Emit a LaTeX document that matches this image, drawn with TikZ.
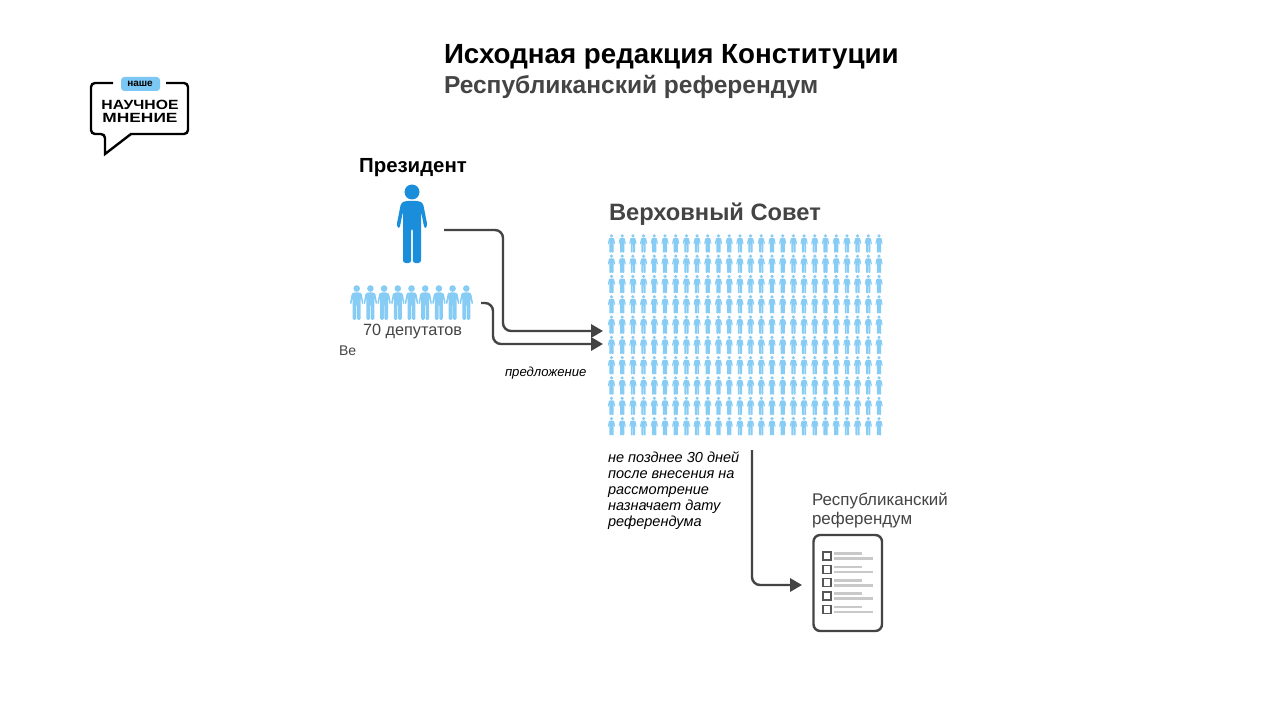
\documentclass[tikz,border=0pt]{standalone}
\usepackage{fontspec}
\setmainfont{Liberation Sans}
\usetikzlibrary{arrows.meta}
\definecolor{ink}{HTML}{444444}
\definecolor{bigblue}{HTML}{1A8EDB}
\definecolor{lightblue}{HTML}{86CCF5}
\definecolor{badge}{HTML}{7CC8F5}
\definecolor{rowgray}{HTML}{C9C9C9}
\tikzset{
  flow/.style={draw=ink,line width=1.8pt,rounded corners=6pt,-{Triangle[length=9pt,width=10pt]}},
  label/.style={inner sep=0pt,outer sep=0pt,text=ink,font=\fontsize{12.2pt}{14pt}\selectfont},
  note/.style={label,text=black,font=\fontsize{9.85pt}{12pt}\selectfont\itshape,align=left},
  heading/.style={inner sep=0pt,outer sep=0pt,font=\bfseries\fontsize{20.8pt}{24pt}\selectfont},
  logotext/.style={inner sep=0pt,transform shape,font=\bfseries\fontsize{10pt}{12pt}\selectfont}
}
\newcommand{\personfig}[4]{% x, y(top), scale, colour
  \begin{scope}[shift={(#1,#2)},scale=#3]
    \fill[#4] (0,8) circle (7.5);
    \fill[#4,rounded corners=#3*2pt]
      (-7,17)--(7,17)--(11,19)--(15.5,42)--(12.5,45)--(9,27)--(9,79)--(0.8,79)--(0.8,44)--(-0.8,44)--(-0.8,79)--(-9,79)--(-9,27)--(-12.5,45)--(-15.5,42)--(-11,19)--cycle;
  \end{scope}}
\begin{document}
\begin{tikzpicture}[x=0.75pt,y=-0.75pt]
\useasboundingbox (0,0) rectangle (1280,720);
\fill[white] (0,0) rectangle (1280,720);
% headings
\node[heading,anchor=west,text=black] (title) at (444,57) {Исходная редакция Конституции};
\node[heading,anchor=west,text=ink,font=\bfseries\fontsize{18.4pt}{22pt}\selectfont] (subtitle) at (444,87) {Республиканский референдум};
% logo
\draw[black,line width=1.8pt,line join=miter,rounded corners=3pt] (113,83)--(91,83)--(91,134)--(105,134) [sharp corners] --(105,154)--(131,134);
\draw[black,line width=1.8pt,rounded corners=3pt] (130,134)--(188,134)--(188,83)--(166,83);
\fill[badge,rounded corners=2.5pt] (121,77) rectangle (160,91);
\node[inner sep=0pt,font=\bfseries\fontsize{7.5pt}{9pt}\selectfont] (logoa) at (140,84) {наше};
\begin{scope}[shift={(140,105)},xscale=1.18]
\node[logotext] (logob) at (0,0) {НАУЧНОЕ};
\end{scope}
\begin{scope}[shift={(140,118)},xscale=1.3]
\node[logotext] (logoc) at (0,0) {МНЕНИЕ};
\end{scope}
% president
\node[heading,font=\bfseries\fontsize{15.3pt}{16pt}\selectfont,text=black] (president) at (413,168) {Президент};
\personfig{412}{184}{1}{bigblue}
\foreach \i in {0,...,8} {\personfig{356.7+13.7*\i}{285}{0.44}{lightblue}}
\node[label] (deputies) at (412.5,332) {70 депутатов};
\node[label,anchor=west,font=\fontsize{10.5pt}{12pt}\selectfont] (ve) at (339,350.5) {Ве};
% supreme soviet
\node[heading,anchor=west,text=ink,font=\bfseries\fontsize{17.75pt}{20pt}\selectfont] (council) at (609,214) {Верховный Совет};
\foreach \r in {0,...,9} {\foreach \c in {0,...,25} {\personfig{611.5+10.7*\c}{234+20.3*\r}{0.235}{lightblue}}}
% notes
\node[note,anchor=west] (proposal) at (505,373) {предложение};
\node[note,anchor=north west,font=\fontsize{10.9pt}{12pt}\selectfont\itshape] (deadline) at (608,452) {не позднее 30 дней\\после внесения на\\рассмотрение\\назначает дату\\референдума};
% referendum
\node[label,anchor=north west,align=left,font=\fontsize{12.7pt}{14.4pt}\selectfont] (refer) at (812,493) {Республиканский\\референдум};
\draw[ink,line width=1.8pt,rounded corners=5pt,fill=white] (813.5,535) rectangle (882,631);
\foreach \k in {0,...,4} {
  \draw[ink!90,line width=1pt] (823,{552+13.35*\k}) rectangle (831,{560+13.35*\k});
  \draw[rowgray,line width=2pt] (833.5,{553.5+13.35*\k}) -- (862,{553.5+13.35*\k});
  \draw[rowgray,line width=2pt] (833.5,{558.7+13.35*\k}) -- (873,{558.7+13.35*\k});
}
% connectors
\coordinate (presOut) at (444,230);
\coordinate (presBend) at (503,331);
\coordinate (presIn) at (603,331);
\coordinate (depOut) at (481,303);
\coordinate (depBend) at (493,344);
\coordinate (depIn) at (603,344);
\coordinate (dateOut) at (752,450);
\coordinate (dateBend) at (752,585);
\coordinate (ballotIn) at (802,585);
\draw[flow] (presOut) -| (presBend) -- (presIn);
\draw[flow] (depOut) -| (depBend) -- (depIn);
\draw[flow] (dateOut) -- (dateBend) -- (ballotIn);
\end{tikzpicture}
\end{document}
